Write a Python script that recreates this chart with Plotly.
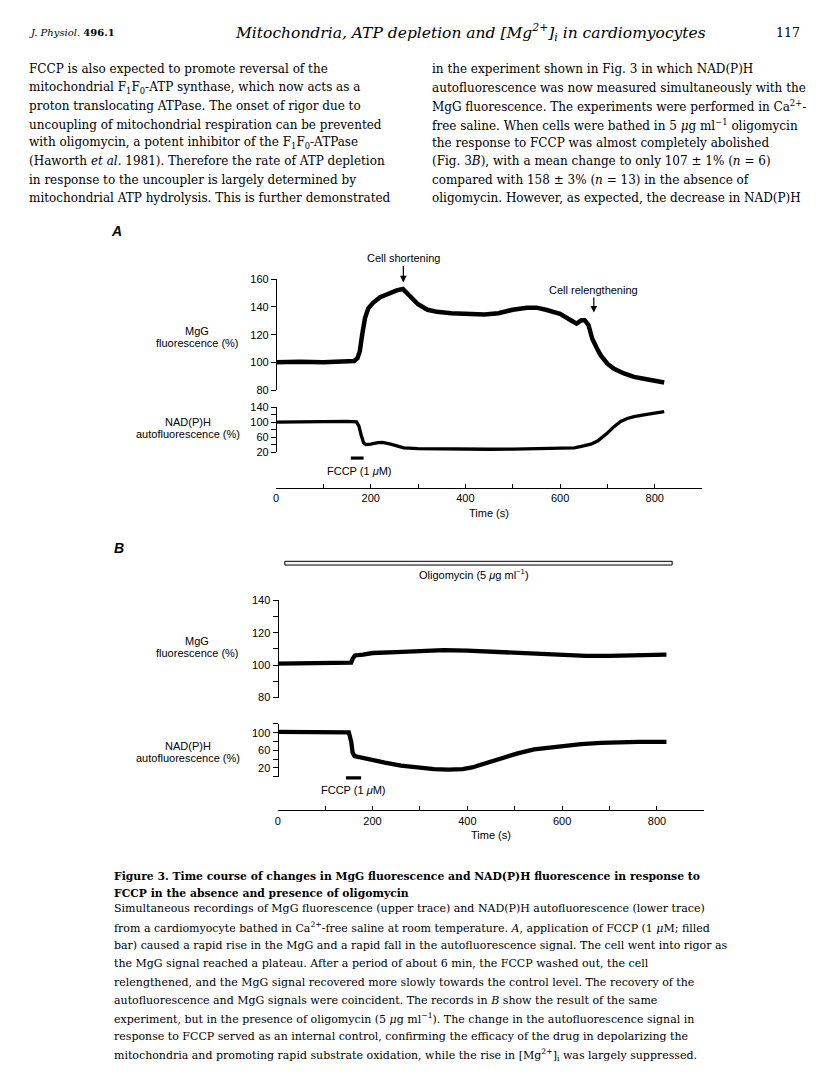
import plotly.graph_objects as go

# the browser page keeps its default 8 px body margin, so the figure is drawn
# 16 px smaller and all positions below are page pixels shifted by that margin
PAGE_W, PAGE_H = 816, 1088
MARGIN = 8
W, H = PAGE_W - 2 * MARGIN, PAGE_H - 2 * MARGIN

# ---- data ----
# A: MgG fluorescence (%)
t_mgg_a = [0, 50, 100, 150, 165, 172, 177, 182, 188, 195, 205, 220, 240, 255, 268, 280, 300, 320,
           340, 370, 405, 440, 470, 500, 530, 550, 570, 600, 620, 635, 645, 652, 660, 668, 678,
           686, 700, 714, 735, 756, 780, 800, 820]
mgg_a = [100, 100.5, 100, 100.3, 101, 103, 108, 120, 132, 139, 143, 147, 150, 152, 153, 149, 142, 138,
         136.5, 135.5, 134.7, 134.5, 135.5, 138, 139.5, 139.5, 138, 135, 131, 128, 130.5, 130.5, 127, 117, 110,
         105, 99, 95.4, 92, 89.5, 88, 87, 85.5]

# A: NAD(P)H autofluorescence (%)
t_nad_a = [0, 50, 100, 150, 170, 175, 180, 185, 190, 200, 215, 225, 240, 255, 270, 300, 350, 400,
           450, 500, 550, 600, 630, 645, 652, 665, 680, 692, 700, 714, 728, 742, 756, 780, 800, 820]
nad_a = [100, 101, 100.5, 102, 101, 90, 65, 45, 40, 41, 45, 46, 42, 36, 31, 29, 28, 27,
         27.5, 28, 29, 29.5, 31, 35, 37, 41, 50, 62, 71, 88, 102, 110, 115, 120, 124, 128]

# B: MgG fluorescence (%), with oligomycin
t_mgg_b = [0, 50, 100, 140, 155, 158, 163, 180, 200, 250, 300, 350, 400, 450, 500, 550, 600, 650,
           700, 750, 800, 820]
mgg_b = [101, 101, 101.5, 101.5, 101.5, 104, 106, 106.5, 107.5, 108, 108.5, 109.3, 109, 108.3, 107.7,
         106.8, 106, 105.7, 105.7, 106, 106.3, 106.5]

# B: NAD(P)H autofluorescence (%), with oligomycin
t_nad_b = [0, 50, 100, 140, 150, 155, 158, 162, 177, 200, 226, 260, 296, 330, 360, 390, 410, 436,
           471, 506, 541, 570, 597, 640, 681, 720, 760, 820]
nad_b = [102, 101.5, 102, 103, 101, 80, 55, 47, 43, 37, 32, 25, 20.5, 17, 16, 17, 21, 30,
         43, 53, 62, 66, 70, 74, 77, 78.5, 79, 79]

fccp_a = [158, 185]       # s
fccp_b = [144, 176]       # s
oligomycin_b = [15, 832]  # s

time_ticks = list(range(0, 901, 100))
time_labels = [str(v) if v % 200 == 0 and v < 900 else '' for v in time_ticks]

left_col = [
    "FCCP is also expected to promote reversal of the",
    "mitochondrial F<sub>1</sub>F<sub>0</sub>-ATP synthase, which now acts as a",
    "proton translocating ATPase. The onset of rigor due to",
    "uncoupling of mitochondrial respiration can be prevented",
    "with oligomycin, a potent inhibitor of the F<sub>1</sub>F<sub>0</sub>-ATPase",
    "(Haworth <i>et al.</i> 1981). Therefore the rate of ATP depletion",
    "in response to the uncoupler is largely determined by",
    "mitochondrial ATP hydrolysis. This is further demonstrated",
]
right_col = [
    "in the experiment shown in Fig. 3 in which NAD(P)H",
    "autofluorescence was now measured simultaneously with the",
    "MgG fluorescence. The experiments were performed in Ca<sup>2+</sup>-",
    "free saline. When cells were bathed in 5 <i>μ</i>g ml<sup>−1</sup> oligomycin",
    "the response to FCCP was almost completely abolished",
    "(Fig. 3<i>B</i>), with a mean change to only 107 ± 1% (<i>n</i> = 6)",
    "compared with 158 ± 3% (<i>n</i> = 13) in the absence of",
    "oligomycin. However, as expected, the decrease in NAD(P)H",
]
caption_title = [
    "Figure 3. Time course of changes in MgG fluorescence and NAD(P)H fluorescence in response to",
    "FCCP in the absence and presence of oligomycin",
]
caption_body = [
    "Simultaneous recordings of MgG fluorescence (upper trace) and NAD(P)H autofluorescence (lower trace)",
    "from a cardiomyocyte bathed in Ca<sup>2+</sup>-free saline at room temperature. <i>A</i>, application of FCCP (1 <i>μ</i>M; filled",
    "bar) caused a rapid rise in the MgG and a rapid fall in the autofluorescence signal. The cell went into rigor as",
    "the MgG signal reached a plateau. After a period of about 6 min, the FCCP washed out, the cell",
    "relengthened, and the MgG signal recovered more slowly towards the control level. The recovery of the",
    "autofluorescence and MgG signals were coincident. The records in <i>B</i> show the result of the same",
    "experiment, but in the presence of oligomycin (5 <i>μ</i>g ml<sup>−1</sup>). The change in the autofluorescence signal in",
    "response to FCCP served as an internal control, confirming the efficacy of the drug in depolarizing the",
    "mitochondria and promoting rapid substrate oxidation, while the rise in [Mg<sup>2+</sup>]<sub>i</sub> was largely suppressed.",
]


def px(x):
    return (x - MARGIN) / W


def py(y):
    return 1 - (y - MARGIN) / H


SANS = 'Liberation Sans, Arial, sans-serif'
SERIF = 'DejaVu Serif, serif'

fig = go.Figure()
fig.add_trace(go.Scatter(x=t_mgg_a, y=mgg_a, xaxis='x', yaxis='y', mode='lines',
                         line=dict(color='black', width=4.5)))
fig.add_trace(go.Scatter(x=t_nad_a, y=nad_a, xaxis='x', yaxis='y2', mode='lines',
                         line=dict(color='black', width=3.3)))
fig.add_trace(go.Scatter(x=t_mgg_b, y=mgg_b, xaxis='x2', yaxis='y3', mode='lines',
                         line=dict(color='black', width=4.3)))
fig.add_trace(go.Scatter(x=t_nad_b, y=nad_b, xaxis='x2', yaxis='y4', mode='lines',
                         line=dict(color='black', width=4.3)))

tickfont = dict(family=SANS, size=11, color='black')
common_axis = dict(showgrid=False, zeroline=False, showline=True, linecolor='black', linewidth=1.3,
                   tickcolor='black', tickwidth=1.2, tickfont=tickfont, fixedrange=True)


def x_axis(left, right, ypos):
    return dict(domain=[px(left), px(right)], range=[0, 900], anchor='free', position=py(ypos),
                ticks='inside', ticklen=4, tickvals=time_ticks, ticktext=time_labels, **common_axis)


def y_axis(top, bottom, rng, vals, labels, xpos):
    return dict(domain=[py(bottom), py(top)], range=rng, anchor='free', position=px(xpos),
                ticks='outside', ticklen=5, tickvals=vals, ticktext=labels, **common_axis)


fig.update_layout(
    width=W, height=H, margin=dict(l=0, r=0, t=0, b=0),
    paper_bgcolor='white', plot_bgcolor='rgba(0,0,0,0)', showlegend=False,
    xaxis=x_axis(274, 701.7, 487.3),
    xaxis2=x_axis(275.7, 704, 813.3),
    yaxis=y_axis(276.3, 388.3, [80, 160], [80, 100, 120, 140, 160],
                 ['80', '100', '120', '140', '160'], 274),
    yaxis2=y_axis(405.7, 451, [20, 140], [20, 40, 60, 80, 100, 120, 140],
                  ['20', '', '60', '', '100', '', '140'], 274),
    yaxis3=y_axis(601, 699.3, [80, 140], [80, 90, 100, 110, 120, 130, 140],
                  ['80', '', '100', '', '120', '', '140'], 275.7),
    yaxis4=y_axis(726, 779.3, [0, 120], [0, 20, 40, 60, 80, 100, 120],
                  ['', '20', '', '60', '', '100', ''], 275.7),
)

# drug application bars
fig.add_shape(type='rect', xref='x', yref='paper', x0=fccp_a[0], x1=fccp_a[1], y0=py(458.7), y1=py(455.5),
              fillcolor='black', line=dict(width=0))
fig.add_shape(type='rect', xref='x2', yref='paper', x0=fccp_b[0], x1=fccp_b[1], y0=py(782.2), y1=py(779.0),
              fillcolor='black', line=dict(width=0))
fig.add_shape(type='rect', xref='x2', yref='paper', x0=oligomycin_b[0], x1=oligomycin_b[1],
              y0=py(565.3), y1=py(561.5), fillcolor='#f4f4f4', line=dict(color='black', width=1))


def note(x, y, text, size=11, family=SANS, xanchor='center'):
    fig.add_annotation(x=px(x), y=py(y), xref='paper', yref='paper', text=text, showarrow=False,
                       xanchor=xanchor, yanchor='middle', font=dict(family=family, size=size, color='black'))


# figure labels
note(114, 227, '<b><i>A</i></b>', size=14)
note(116, 548, '<b><i>B</i></b>', size=14)
for (l1, l2), xc, y1, y2 in [(('MgG', 'fluorescence (%)'), 195, 328.5, 340.5),
                             (('NAD(P)H', 'autofluorescence (%)'), 186, 420.7, 432.7),
                             (('MgG', 'fluorescence (%)'), 195, 642.5, 654.5),
                             (('NAD(P)H', 'autofluorescence (%)'), 186, 748.3, 760.3)]:
    note(xc, y1, l1)
    note(xc, y2, l2)
note(357.5, 470.5, 'FCCP (1 <i>μ</i>M)')
note(352, 793, 'FCCP (1 <i>μ</i>M)')
note(488, 512.3, 'Time (s)')
note(490, 838.3, 'Time (s)')
note(472.5, 574.3, 'Oligomycin (5 <i>μ</i>g ml<sup>−1</sup>)')

for txt, tx, ty, tip in [('Cell shortening', 402.8, 255.5, 279.5), ('Cell relengthening', 594, 287.3, 310)]:
    fig.add_annotation(x=px(tx - 1), y=py(tip), xref='paper', yref='paper', ax=0, ay=-(tip - ty),
                       text=txt, showarrow=True, arrowhead=2, arrowsize=1.1, arrowwidth=1.2,
                       arrowcolor='black', standoff=0,
                       font=dict(family=SANS, size=11, color='black'))

# page header
note(24, 27, '<i>J. Physiol.</i> <b>496.1</b>', size=10, family=SERIF, xanchor='left')
note(469, 27, '<i>Mitochondria, ATP depletion and [Mg<sup>2+</sup>]<sub>i</sub> in cardiomyocytes</i>',
     size=15.5, family=SERIF)
note(802, 27, '117', size=12.5, family=SERIF, xanchor='right')

# running text, two columns
for i, line in enumerate(left_col):
    note(24, 64 + 18.6 * i, line, size=12, family=SERIF, xanchor='left')
for i, line in enumerate(right_col):
    note(429, 64 + 18.6 * i, line, size=12, family=SERIF, xanchor='left')

# caption
for i, line in enumerate(caption_title):
    note(109, 880 + 17 * i, '<b>' + line + '</b>', size=10.8, family=SERIF, xanchor='left')
for i, line in enumerate(caption_body):
    note(109, 913 + 18.5 * i, line, size=11.0, family=SERIF, xanchor='left')

fig.write_html("out.html")
